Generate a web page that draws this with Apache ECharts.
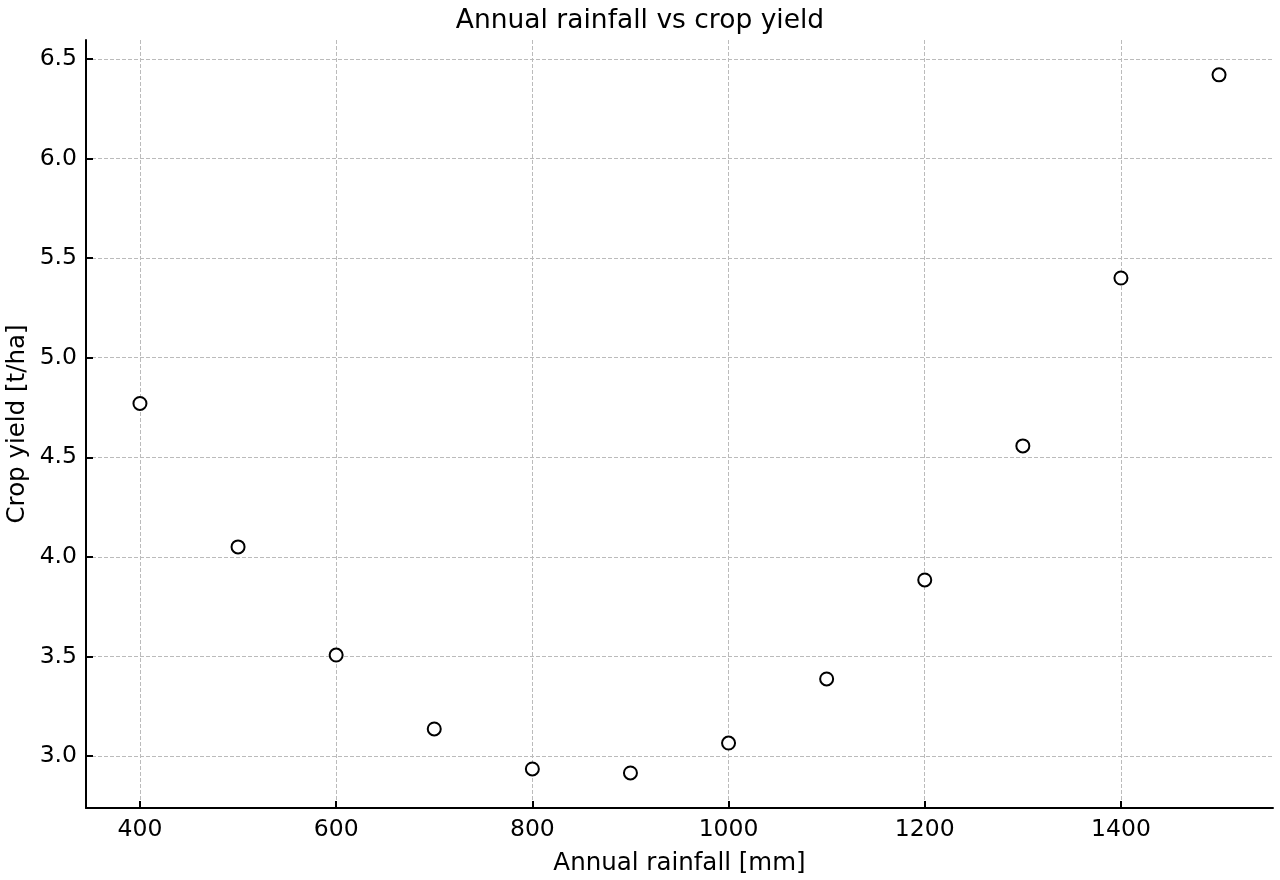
<!DOCTYPE html>
<html>
<head>
<meta charset="utf-8">
<script src="https://cdn.jsdelivr.net/npm/echarts@6/dist/echarts.min.js"></script>
<style>
  html, body { margin: 0; padding: 0; background: #fff; }
  #chart { width: 1280px; height: 880px; }
</style>
</head>
<body>
<div id="chart"></div>
<script>
const rainfall = [400, 500, 600, 700, 800, 900, 1000, 1100, 1200, 1300, 1400, 1500]
const cropYield = [4.77, 4.05, 3.507, 3.136, 2.935, 2.915, 3.065, 3.387, 3.884, 4.557, 5.40, 6.42]
const xTicks = [400, 600, 800, 1000, 1200, 1400]
const yTicks = [3.0, 3.5, 4.0, 4.5, 5.0, 5.5, 6.0, 6.5]

const font = 'DejaVu Sans'
const chart = echarts.init(document.getElementById('chart'))

const gridLine = { show: true, lineStyle: { color: '#bbb', type: [4, 2], width: 1 } }

chart.setOption({
  animation: false,
  textStyle: { fontFamily: font },
  title: {
    text: 'Annual rainfall vs crop yield',
    left: 'center',
    top: 3,
    textStyle: { fontFamily: font, fontSize: 26.5, fontWeight: 'normal', color: '#000' }
  },
  grid: { left: 86, right: 7, top: 40, bottom: 72, outerBoundsMode: 'none', containLabel: false },
  xAxis: {
    type: 'value',
    min: 345,
    max: 1555,
    name: 'Annual rainfall [mm]',
    nameLocation: 'middle',
    nameGap: 43,
    nameMoveOverlap: false,
    nameTextStyle: { fontFamily: font, fontSize: 24.5, color: '#000' },
    axisLine: { show: true, lineStyle: { color: '#000', width: 2 } },
    axisTick: { show: true, inside: true, length: 7, customValues: xTicks, lineStyle: { color: '#000', width: 2 } },
    axisLabel: {
      fontFamily: font, fontSize: 23.5, color: '#000', margin: 10, customValues: xTicks,
      formatter: v => String(v)
    },
    splitLine: gridLine
  },
  yAxis: {
    type: 'value',
    min: 2.739,
    max: 6.595,
    name: 'Crop yield [t/ha]',
    nameLocation: 'middle',
    nameGap: 56,
    nameMoveOverlap: false,
    nameTextStyle: { fontFamily: font, fontSize: 24.5, color: '#000' },
    axisLine: { show: true, lineStyle: { color: '#000', width: 2 } },
    axisTick: { show: true, inside: true, length: 7, customValues: yTicks, lineStyle: { color: '#000', width: 2 } },
    axisLabel: {
      fontFamily: font, fontSize: 23.5, color: '#000', margin: 9, customValues: yTicks,
      formatter: v => v.toFixed(1)
    },
    splitLine: gridLine
  },
  series: [
    {
      type: 'scatter',
      symbol: 'circle',
      symbolSize: 13,
      itemStyle: { color: '#fff', borderColor: '#000', borderWidth: 2, opacity: 1 },
      data: rainfall.map((x, i) => [x, cropYield[i]])
    }
  ]
})
</script>
</body>
</html>
